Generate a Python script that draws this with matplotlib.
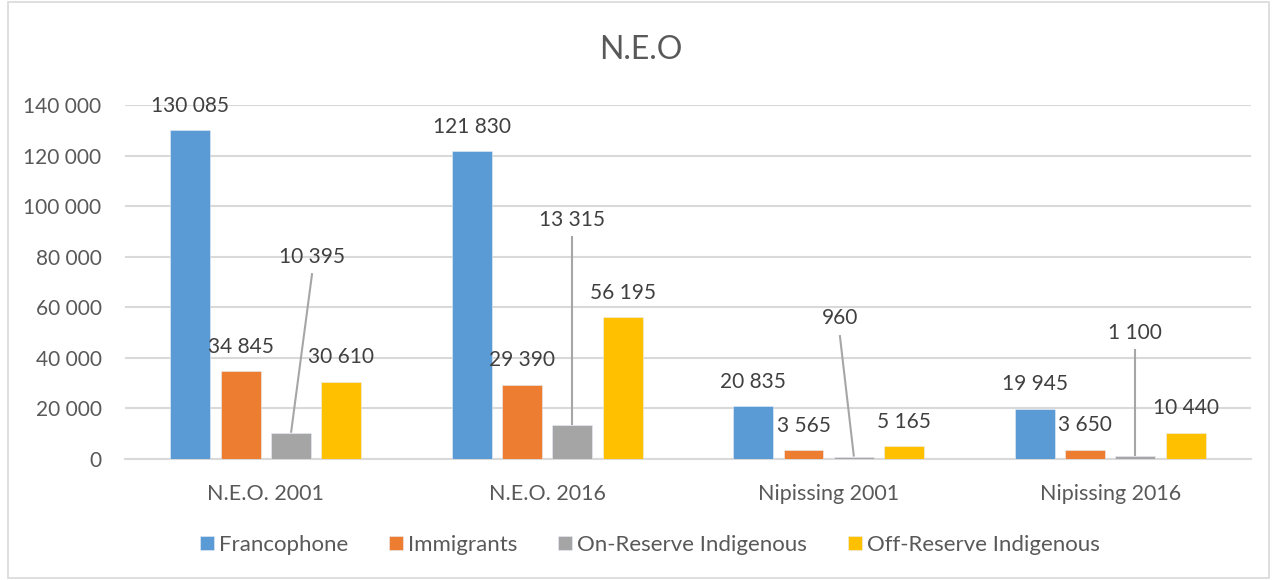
import numpy as np
import matplotlib
matplotlib.use('Agg')
import matplotlib.pyplot as plt
from matplotlib.patches import Rectangle

# data
categories = ['N.E.O. 2001', 'N.E.O. 2016', 'Nipissing 2001', 'Nipissing 2016']
series_names = ['Francophone', 'Immigrants', 'On-Reserve Indigenous', 'Off-Reserve Indigenous']
francophone = [130085, 121830, 20835, 19945]
immigrants = [34845, 29390, 3565, 3650]
on_reserve = [10395, 13315, 960, 1100]
off_reserve = [30610, 56195, 5165, 10440]
yticks = [0, 20000, 40000, 60000, 80000, 100000, 120000, 140000]

colors = ['#5B9BD5', '#ED7D31', '#A5A5A5', '#FFC000']

# moved labels of the on-reserve series (label y, label x shift, leader top y)
gray_label_y = [80000, 94500, 55700, 49800]
gray_label_dx = [0.075, 0.0, -0.05, 0.0]
gray_line_top = [73500, 88000, 49000, 43500]

def fmt(v):
    return '{:,}'.format(v).replace(',', ' ')

plt.rcParams['font.family'] = ['Lato', 'DejaVu Sans']

fig = plt.figure(figsize=(12.77, 5.8), dpi=100)
ax = fig.add_axes([0.098, 0.2086, 0.8815, 0.6104])

x = np.arange(len(categories))
step = 0.179
width = 0.142
all_series = [francophone, immigrants, on_reserve, off_reserve]

for i, (vals, name) in enumerate(zip(all_series, series_names)):
    pos = x + (i - 1.5) * step
    ax.bar(pos, vals, width, color=colors[i], label=name, zorder=3,
           edgecolor='#E8EEF6', linewidth=0.4)
    for j, v in enumerate(vals):
        if i == 2:
            lx = pos[j] + gray_label_dx[j]
            ax.text(lx, gray_label_y[j], fmt(v), ha='center', va='center',
                    fontsize=15, color='#404040', zorder=5)
            ax.plot([lx, pos[j]], [gray_line_top[j], v], color='#A6A6A6',
                    lw=1.5, zorder=4, solid_capstyle='butt')
        else:
            ax.annotate(fmt(v), (pos[j], v), xytext=(0, 17.5),
                        textcoords='offset points', ha='center', va='center',
                        fontsize=15, color='#404040', zorder=5)

ax.set_xlim(-0.5, 3.5)
ax.set_ylim(0, 140000)
ax.set_yticks(yticks)
ax.set_yticklabels([fmt(t) for t in yticks])
ax.set_xticks(x)
ax.set_xticklabels(categories)
ax.tick_params(axis='y', length=0, pad=17, labelsize=15, labelcolor='#595959')
ax.tick_params(axis='x', length=0, pad=18, labelsize=15.5, labelcolor='#595959')
ax.grid(axis='y', color='#D9D9D9', lw=1.5, zorder=0)
for s in ['top', 'right', 'left']:
    ax.spines[s].set_visible(False)
ax.spines['bottom'].set_color('#D9D9D9')
ax.spines['bottom'].set_linewidth(1.5)

fig.text(0.502, 1 - 50 / 580, 'N.E.O', ha='center', va='center',
         fontsize=23, color='#595959')

leg = fig.legend(loc='center', bbox_to_anchor=(0.509, 1 - 545 / 580), ncol=4,
                 frameon=False, fontsize=16, handlelength=0.62, handleheight=0.62,
                 handletextpad=0.23, columnspacing=1.85, labelcolor='#595959')

fig.patches.append(Rectangle((8 / 1277, 0.004), 1261 / 1277, 0.992,
                             transform=fig.transFigure, fill=False,
                             edgecolor='#D9D9D9', lw=1.2))

fig.savefig('out.png', dpi=100)
